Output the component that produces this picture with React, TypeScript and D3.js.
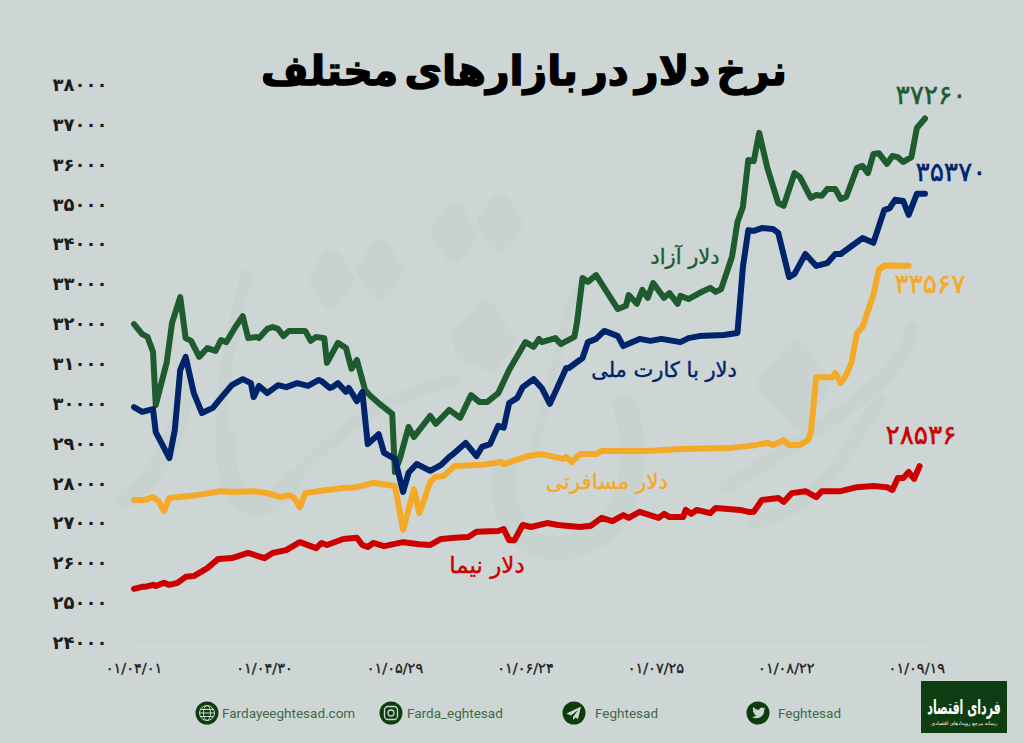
import React from 'react';
import { scaleLinear, line, curveLinear } from 'd3';

const rateTicks = [38000, 37000, 36000, 35000, 34000, 33000, 32000, 31000, 30000, 29000, 28000, 27000, 26000, 25000, 24000];
const dateLabels = ['۰۱/۰۴/۰۱', '۰۱/۰۴/۳۰', '۰۱/۰۵/۲۹', '۰۱/۰۶/۲۴', '۰۱/۰۷/۲۵', '۰۱/۰۸/۲۲', '۰۱/۰۹/۱۹'];
const SESSIONS_PER_LABEL = 48;

const freeSessions = [0,3,5,7,8,12,14,17,19,21,24,27,30,32,34,37,40,42,45,46,49,51,53,55,57,63,65,67,70,71,75,78,80,82,85,87,90,95,96,98,101,103,109,111,116,120,124,127,130,134,138,144,147,149,150,155,157,162,163,165,167,170,178,181,182,185,187,189,191,195,197,200,201,204,208,212,214,216,220,222,224,226,228,230,233,237,239,243,245,249,251,253,255,258,260,262,266,268,270,272,274,277,279,281,283,286,288,291];
const freeRates = [32100,31850,31780,31400,30070,31130,32130,32780,31750,31680,31280,31500,31430,31700,31650,32000,32300,31750,31780,31750,31980,32030,31980,31800,31930,31930,31680,31780,31750,31130,31630,31500,30980,31200,30450,30300,30120,29850,28390,28770,29520,29270,29800,29600,29950,29750,30320,30150,30150,30370,30950,31650,31530,31730,31650,31750,31600,31780,32150,33260,33160,33330,32480,32560,32830,32610,32960,32760,33130,32760,32880,32610,32810,32730,32880,33010,32910,32980,33790,34660,35040,36220,36190,36900,36020,35140,35070,35890,35790,35270,35340,35320,35490,35490,35240,35290,36020,36070,35890,36370,36390,36120,36320,36290,36170,36290,37020,37260];

const cardSessions = [0,3,7,8,13,15,17,19,22,25,29,32,36,40,43,44,46,49,53,56,60,64,68,69,72,73,75,78,79,82,84,86,90,92,96,99,101,104,109,113,116,117,122,126,128,131,134,136,138,141,143,147,150,153,159,160,165,167,170,173,175,178,180,186,190,194,201,204,208,217,222,224,226,228,231,235,237,241,243,247,251,255,258,260,264,268,272,276,278,280,283,285,288,291];
const cardRates = [30020,29900,29970,29390,28740,29440,30950,31280,30370,29870,30000,30250,30570,30720,30620,30270,30550,30370,30570,30520,30620,30550,30700,30670,30500,30520,30620,30400,30500,30170,30400,29090,29340,28870,28720,27890,28370,28590,28420,28570,28770,28820,29120,28790,29020,29090,29550,29500,30120,30250,30520,30720,30500,30100,31000,31000,31250,31650,31730,31930,31880,31800,31550,31730,31680,31730,31650,31750,31800,31830,31880,33530,34460,34440,34510,34490,34390,33280,33360,33860,33560,33630,33860,33860,34060,34260,34140,34960,35010,35220,35190,34840,35370,35370];

const travelSessions = [0,4,7,9,11,13,23,32,36,44,49,54,57,59,61,63,71,77,82,88,96,99,103,105,109,111,114,118,128,135,136,145,150,158,159,161,164,170,172,189,201,219,229,233,235,239,241,245,248,249,251,257,258,260,262,264,266,268,272,274,276,285];
const travelRates = [27690,27690,27760,27660,27410,27740,27810,27910,27890,27910,27860,27760,27810,27740,27510,27860,27940,27990,28010,28120,28040,26940,27960,27360,28140,28270,28290,28540,28570,28640,28590,28790,28840,28720,28770,28640,28840,28840,28920,28920,28970,28990,29070,29120,29070,29190,29070,29070,29190,29390,30770,30770,30880,30620,30820,31150,31880,32030,32830,33460,33570,33567];

const nimaSessions = [0,3,4,7,8,11,13,16,19,22,27,31,36,42,48,51,56,58,61,67,69,71,77,82,84,86,88,92,99,105,109,113,118,123,126,134,136,138,140,143,146,152,156,164,168,172,176,180,182,186,193,195,197,202,203,205,207,212,214,223,226,228,231,237,239,242,247,251,253,260,266,272,277,279,281,283,285,287,289];
const nimaRates = [25460,25510,25510,25560,25530,25610,25560,25610,25760,25780,25980,26210,26230,26360,26230,26360,26430,26510,26630,26480,26610,26560,26710,26740,26560,26510,26610,26530,26630,26580,26560,26710,26740,26760,26890,26910,26960,26680,26680,27060,27010,27110,27060,27010,27040,27240,27160,27310,27240,27390,27240,27340,27260,27260,27440,27340,27440,27360,27490,27440,27390,27390,27690,27740,27640,27860,27910,27760,27910,27910,28010,28040,28010,27940,28240,28240,28390,28220,28536];

const BG = '#cdd6d4';
const WATERMARK = '#c8d2ce';
const GREEN = '#1e5c30';
const NAVY = '#00246b';
const ORANGE = '#f4aa28';
const RED = '#cc0000';
const ARABIC_FONT = '"DejaVu Sans", sans-serif';

const toPersian = (n: number) => String(n).replace(/\d/g, d => '۰۱۲۳۴۵۶۷۸۹'[+d]);

const seriesList = [
  { sessions: nimaSessions, rates: nimaRates, color: RED },
  { sessions: travelSessions, rates: travelRates, color: ORANGE },
  { sessions: freeSessions, rates: freeRates, color: GREEN },
  { sessions: cardSessions, rates: cardRates, color: NAVY },
];

const seriesLabels = [
  { text: 'دلار آزاد', x: 685, y: 257, color: GREEN, size: 21 },
  { text: 'دلار با کارت ملی', x: 664, y: 370, color: NAVY, size: 21 },
  { text: 'دلار مسافرتی', x: 607, y: 481, color: ORANGE, size: 21.5 },
  { text: 'دلار نیما', x: 487, y: 565, color: RED, size: 23 },
];

const endLabels = [
  { value: 37260, x: 931, y: 95, color: GREEN },
  { value: 35370, x: 951, y: 172, color: NAVY },
  { value: 33567, x: 930, y: 284, color: ORANGE },
  { value: 28536, x: 921, y: 435, color: RED },
];

const socials = [
  { kind: 'globe', cx: 207, text: 'Fardayeeghtesad.com', tx: 222 },
  { kind: 'insta', cx: 391, text: 'Farda_eghtesad', tx: 407 },
  { kind: 'plane', cx: 574, text: 'Feghtesad', tx: 595 },
  { kind: 'bird', cx: 758, text: 'Feghtesad', tx: 778 },
];

const x = scaleLinear().domain([0, 291]).range([134, 925]);
const y = scaleLinear().domain([24000, 38000]).range([647, 89]);

const SocialIcon: React.FC<{ kind: string; cx: number }> = ({ kind, cx }) => (
  <g transform={`translate(${cx},713)`}>
    <circle r={11.5} fill="#0d3d0a" />
    {kind === 'globe' && (
      <g fill="none" stroke={BG} strokeWidth={1}>
        <circle r={7.5} />
        <ellipse rx={3.5} ry={7.5} />
        <path d="M-7.5 0H7.5M-6.5 -3.5H6.5M-6.5 3.5H6.5" />
      </g>
    )}
    {kind === 'insta' && (
      <g fill="none" stroke={BG} strokeWidth={1.3}>
        <rect x={-6.5} y={-6.5} width={13} height={13} rx={3.5} />
        <circle r={3} />
      </g>
    )}
    {kind === 'plane' && <path d="M7 -6.5L-7.5 0.5L-3 2.5L4 -3L-1 4L-1 7L1.5 4.5L4 6Z" fill={BG} />}
    {kind === 'bird' && (
      <path
        d="M7.5 -4.5C6.8 -4.2 6.2 -4 5.6 -4C6.2 -4.4 6.7 -5 6.9 -5.7C6.3 -5.3 5.6 -5.1 4.9 -5C3.6 -6.3 1 -5.3 1.4 -2.9C-1 -3 -3.2 -4.1 -4.8 -6C-5.6 -4.6 -5.2 -2.9 -3.9 -2C-4.4 -2 -4.8 -2.2 -5.2 -2.4C-5.2 -1 -4.2 0.3 -2.8 0.6C-3.2 0.7 -3.7 0.7 -4.1 0.6C-3.7 1.8 -2.6 2.6 -1.4 2.6C-2.8 3.7 -4.4 4.1 -6 4C-0.8 7.2 6.5 4 6.1 -2.9C6.7 -3.3 7.2 -3.9 7.5 -4.5Z"
        fill={BG}
      />
    )}
  </g>
);

const App: React.FC = () => (
  <svg width={1024} height={743} style={{ position: 'absolute', left: 0, top: 0, display: 'block' }}>
    <rect width={1024} height={743} fill={BG} />

    {/* faint calligraphy behind the chart */}
    <g fill={WATERMARK} stroke={WATERMARK} strokeWidth={20} strokeLinejoin="round">
      <path d="M331 259L344 279L331 299L319 279Z" />
      <path d="M380 249L393 270L380 291L367 270Z" />
      <path d="M454 213L467 233L454 253L441 233Z" />
      <path d="M500 204L513 223L500 242L487 223Z" />
      <path d="M485 310L505 340L490 362L465 350L462 335Z" />
      <path d="M796 350L820 385L800 420L767 385Z" />
    </g>
    <g fill="none" stroke={WATERMARK} strokeLinecap="round">
      <path d="M247 275C228 340 218 400 222 460" strokeWidth={12} />
      <path d="M227 440C222 510 265 525 292 480" strokeWidth={20} />
      <path d="M292 480C330 440 370 400 455 380" strokeWidth={12} />
      <path d="M186 385C180 430 165 470 125 500" strokeWidth={18} />
      <path d="M574 290C558 350 545 410 533 450" strokeWidth={8} />
      <path d="M625 405C645 470 625 540 565 548C515 552 500 510 505 470" strokeWidth={24} />
      <path d="M912 330C908 375 820 430 725 488" strokeWidth={14} />
      <path d="M880 400C850 440 830 505 755 522" strokeWidth={14} />
    </g>

    <text x={524} y={85} textAnchor="middle" direction="rtl" fontFamily={ARABIC_FONT} fontWeight={700} fontSize={41} wordSpacing={-8} fill="#000" stroke="#000" strokeWidth={1.4}>
      نرخ دلار در بازارهای مختلف
    </text>

    <line x1={132} x2={928} y1={y(24000)} y2={y(24000)} stroke="#d6dedb" strokeWidth={1} />

    {rateTicks.map(t => (
      <text key={t} x={80} y={y(t) + 2} textAnchor="middle" fontFamily={ARABIC_FONT} fontWeight={700} fontSize={18} fill="#1c1c1c">
        {toPersian(t)}
      </text>
    ))}

    {dateLabels.map((d, i) => (
      <text key={d} x={x(i * SESSIONS_PER_LABEL)} y={673} textAnchor="middle" fontFamily={ARABIC_FONT} fontSize={14.5} fill="#1c1c1c" stroke="#1c1c1c" strokeWidth={0.3}>
        {d}
      </text>
    ))}

    {seriesList.map(s => {
      const points = s.sessions.map((sess, i) => [x(sess), y(s.rates[i])] as [number, number]);
      const path = line<[number, number]>().curve(curveLinear)(points) || '';
      return <path key={s.color} d={path} fill="none" stroke={s.color} strokeWidth={6} strokeLinejoin="round" strokeLinecap="round" />;
    })}

    {seriesLabels.map(l => (
      <text key={l.text} x={l.x} y={l.y} dy="0.35em" textAnchor="middle" direction="rtl" fontFamily={ARABIC_FONT} fontSize={l.size} fill={l.color} stroke={l.color} strokeWidth={0.4}>
        {l.text}
      </text>
    ))}

    {endLabels.map(l => (
      <text key={l.value} x={l.x} y={l.y} dy="0.35em" textAnchor="middle" fontFamily={ARABIC_FONT} fontSize={26.5} fill={l.color} stroke={l.color} strokeWidth={0.5}>
        {toPersian(l.value)}
      </text>
    ))}

    {socials.map(s => (
      <g key={s.tx}>
        <SocialIcon kind={s.kind} cx={s.cx} />
        <text x={s.tx} y={718} fontFamily="Roboto, sans-serif" fontSize={13.5} fill="#3f6a48">
          {s.text}
        </text>
      </g>
    ))}

    <rect x={921} y={681} width={86} height={52} fill="#0f3d12" />
    <text transform="translate(964,714) scale(1,1.8)" textAnchor="middle" direction="rtl" fontFamily={ARABIC_FONT} fontWeight={700} fontSize={11} fill="#fff">
      فردای اقتصاد
    </text>
    <text x={964} y={725} textAnchor="middle" direction="rtl" fontFamily={ARABIC_FONT} fontSize={5} fill="#fff">
      رسانه مرجع رویدادهای اقتصادی
    </text>
  </svg>
);

export default App;
